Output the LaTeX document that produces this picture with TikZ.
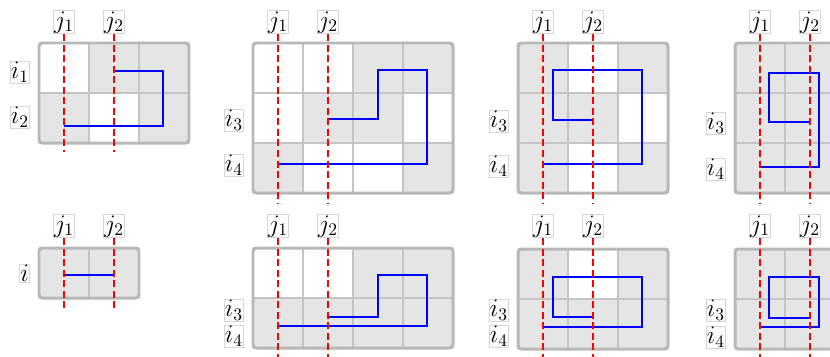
\documentclass[tikz,border=0pt]{standalone}
\usepackage{amsmath}
\usepackage{tikz}

\definecolor{cellgray}{HTML}{E5E5E5}
\definecolor{linegray}{HTML}{C4C4C4}
\definecolor{framegray}{HTML}{B8B8B8}
\definecolor{boxgray}{HTML}{D6D6D6}

\tikzset{
  grayfill/.style={fill=cellgray},
  freecell/.style={fill=white},
  gridlines/.style={draw=linegray,line width=1.1pt},
  gridframe/.style={draw=framegray,line width=1.7pt,rounded corners=2pt},
  blueroute/.style={draw=blue,line width=1.4pt},
  cutline/.style={draw=red,line width=1.6pt,dash pattern=on 4pt off 2pt},
  lbl/.style={fill=white,draw=boxgray,line width=0.4pt,inner sep=0.4pt,font=\Large},
}

\begin{document}
\begin{tikzpicture}
\useasboundingbox (0,0) rectangle (16.6,-7.12);
\clip (0,0) rectangle (16.6,-7.12);

% first row, panel a
\begin{scope}[shift={(0.78,-0.86)}]
  \fill[grayfill] (0,0) rectangle (3,-2);
  \fill[freecell] (0,0) rectangle (1,-1);
  \fill[freecell] (1,-1) rectangle (2,-2);
  \draw[gridlines] (0,0) grid (3,-2);
  \draw[gridframe] (0,0) rectangle (3,-2);
  \draw[blueroute] (1.5,-0.56) -- (2.48,-0.56) -- (2.48,-1.66) -- (0.5,-1.66);
  \node[lbl,anchor=south] (j1a) at (0.5,0.18) {$j_1$};
  \node[lbl,anchor=south] (j2a) at (1.5,0.18) {$j_2$};
  \node[lbl,anchor=east] (ia1) at (-0.18,-0.58) {$i_1$};
  \node[lbl,anchor=east] (ia2) at (-0.18,-1.48) {$i_2$};
  \coordinate (j1a-end) at (0.5,-2.18);
  \coordinate (j2a-end) at (1.5,-2.18);
  \draw[cutline] (j1a) -- (j1a-end);
  \draw[cutline] (j2a) -- (j2a-end);
\end{scope}

% panel b
\begin{scope}[shift={(5.06,-0.86)}]
  \fill[grayfill] (0,0) rectangle (4,-3);
  \fill[freecell] (0,0) rectangle (2,-1);
  \fill[freecell] (0,-1) rectangle (1,-2);
  \fill[freecell] (3,-1) rectangle (4,-2);
  \fill[freecell] (1,-2) rectangle (3,-3);
  \draw[gridlines] (0,0) grid (4,-3);
  \draw[gridframe] (0,0) rectangle (4,-3);
  \draw[blueroute] (1.5,-1.52) -- (2.5,-1.52) -- (2.5,-0.54) -- (3.48,-0.54) -- (3.48,-2.42) -- (0.5,-2.42);
  \node[lbl,anchor=south] (j1b) at (0.5,0.18) {$j_1$};
  \node[lbl,anchor=south] (j2b) at (1.5,0.18) {$j_2$};
  \node[lbl,anchor=east] (ib3) at (-0.18,-1.54) {$i_3$};
  \node[lbl,anchor=east] (ib4) at (-0.18,-2.44) {$i_4$};
  \coordinate (j1b-end) at (0.5,-3.2);
  \coordinate (j2b-end) at (1.5,-3.2);
  \draw[cutline] (j1b) -- (j1b-end);
  \draw[cutline] (j2b) -- (j2b-end);
\end{scope}

% panel c
\begin{scope}[shift={(10.36,-0.86)}]
  \fill[grayfill] (0,0) rectangle (3,-3);
  \fill[freecell] (1,0) rectangle (2,-1);
  \fill[freecell] (2,-1) rectangle (3,-2);
  \fill[freecell] (1,-2) rectangle (2,-3);
  \draw[gridlines] (0,0) grid (3,-3);
  \draw[gridframe] (0,0) rectangle (3,-3);
  \draw[blueroute] (1.5,-1.54) -- (0.7,-1.54) -- (0.7,-0.54) -- (2.48,-0.54) -- (2.48,-2.42) -- (0.5,-2.42);
  \node[lbl,anchor=south] (j1c) at (0.5,0.18) {$j_1$};
  \node[lbl,anchor=south] (j2c) at (1.5,0.18) {$j_2$};
  \node[lbl,anchor=east] (ic3) at (-0.18,-1.56) {$i_3$};
  \node[lbl,anchor=east] (ic4) at (-0.18,-2.46) {$i_4$};
  \coordinate (j1c-end) at (0.5,-3.2);
  \coordinate (j2c-end) at (1.5,-3.2);
  \draw[cutline] (j1c) -- (j1c-end);
  \draw[cutline] (j2c) -- (j2c-end);
\end{scope}

% panel d
\begin{scope}[shift={(14.7,-0.86)}]
  \fill[grayfill] (0,0) rectangle (3,-3);
  \draw[gridlines] (0,0) grid (3,-3);
  \draw[gridframe] (0,0) rectangle (3,-3);
  \draw[blueroute] (1.5,-1.58) -- (0.68,-1.58) -- (0.68,-0.6) -- (1.68,-0.6) -- (1.68,-2.48) -- (0.5,-2.48);
  \node[lbl,anchor=south] (j1d) at (0.5,0.18) {$j_1$};
  \node[lbl,anchor=south] (j2d) at (1.5,0.18) {$j_2$};
  \node[lbl,anchor=east] (id3) at (-0.18,-1.6) {$i_3$};
  \node[lbl,anchor=east] (id4) at (-0.18,-2.52) {$i_4$};
  \coordinate (j1d-end) at (0.5,-3.2);
  \coordinate (j2d-end) at (1.5,-3.2);
  \draw[cutline] (j1d) -- (j1d-end);
  \draw[cutline] (j2d) -- (j2d-end);
\end{scope}

% second row, panel e
\begin{scope}[shift={(0.78,-4.96)}]
  \fill[grayfill] (0,0) rectangle (2,-1);
  \draw[gridlines] (0,0) grid (2,-1);
  \draw[gridframe] (0,0) rectangle (2,-1);
  \draw[blueroute] (0.5,-0.54) -- (1.5,-0.54);
  \node[lbl,anchor=south] (j1e) at (0.5,0.2) {$j_1$};
  \node[lbl,anchor=south] (j2e) at (1.5,0.2) {$j_2$};
  \node[lbl,anchor=east] (ie) at (-0.18,-0.5) {$i$};
  \coordinate (j1e-end) at (0.5,-1.2);
  \coordinate (j2e-end) at (1.5,-1.2);
  \draw[cutline] (j1e) -- (j1e-end);
  \draw[cutline] (j2e) -- (j2e-end);
\end{scope}

% panel f
\begin{scope}[shift={(5.06,-4.96)}]
  \fill[grayfill] (0,0) rectangle (4,-2);
  \fill[freecell] (0,0) rectangle (2,-1);
  \draw[gridlines] (0,0) grid (4,-2);
  \draw[gridframe] (0,0) rectangle (4,-2);
  \draw[blueroute] (1.5,-1.38) -- (2.5,-1.38) -- (2.5,-0.54) -- (3.48,-0.54) -- (3.48,-1.56) -- (0.5,-1.56);
  \node[lbl,anchor=south] (j1f) at (0.5,0.2) {$j_1$};
  \node[lbl,anchor=south] (j2f) at (1.5,0.2) {$j_2$};
  \node[lbl,anchor=east] (if3) at (-0.18,-1.24) {$i_3$};
  \node[lbl,anchor=east] (if4) at (-0.18,-1.76) {$i_4$};
  \coordinate (j1f-end) at (0.5,-2.4);
  \coordinate (j2f-end) at (1.5,-2.4);
  \draw[cutline] (j1f) -- (j1f-end);
  \draw[cutline] (j2f) -- (j2f-end);
\end{scope}

% panel g
\begin{scope}[shift={(10.36,-4.98)}]
  \fill[grayfill] (0,0) rectangle (3,-2);
  \fill[freecell] (1,0) rectangle (2,-1);
  \draw[gridlines] (0,0) grid (3,-2);
  \draw[gridframe] (0,0) rectangle (3,-2);
  \draw[blueroute] (1.5,-1.36) -- (0.7,-1.36) -- (0.7,-0.56) -- (2.48,-0.56) -- (2.48,-1.56) -- (0.5,-1.56);
  \node[lbl,anchor=south] (j1g) at (0.5,0.22) {$j_1$};
  \node[lbl,anchor=south] (j2g) at (1.5,0.22) {$j_2$};
  \node[lbl,anchor=east] (ig3) at (-0.18,-1.22) {$i_3$};
  \node[lbl,anchor=east] (ig4) at (-0.18,-1.74) {$i_4$};
  \coordinate (j1g-end) at (0.5,-2.4);
  \coordinate (j2g-end) at (1.5,-2.4);
  \draw[cutline] (j1g) -- (j1g-end);
  \draw[cutline] (j2g) -- (j2g-end);
\end{scope}

% panel h
\begin{scope}[shift={(14.7,-4.98)}]
  \fill[grayfill] (0,0) rectangle (3,-2);
  \draw[gridlines] (0,0) grid (3,-2);
  \draw[gridframe] (0,0) rectangle (3,-2);
  \draw[blueroute] (1.5,-1.38) -- (0.68,-1.38) -- (0.68,-0.56) -- (1.68,-0.56) -- (1.68,-1.56) -- (0.5,-1.56);
  \node[lbl,anchor=south] (j1h) at (0.5,0.22) {$j_1$};
  \node[lbl,anchor=south] (j2h) at (1.5,0.22) {$j_2$};
  \node[lbl,anchor=east] (ih3) at (-0.18,-1.22) {$i_3$};
  \node[lbl,anchor=east] (ih4) at (-0.18,-1.76) {$i_4$};
  \coordinate (j1h-end) at (0.5,-2.4);
  \coordinate (j2h-end) at (1.5,-2.4);
  \draw[cutline] (j1h) -- (j1h-end);
  \draw[cutline] (j2h) -- (j2h-end);
\end{scope}
\end{tikzpicture}
\end{document}
